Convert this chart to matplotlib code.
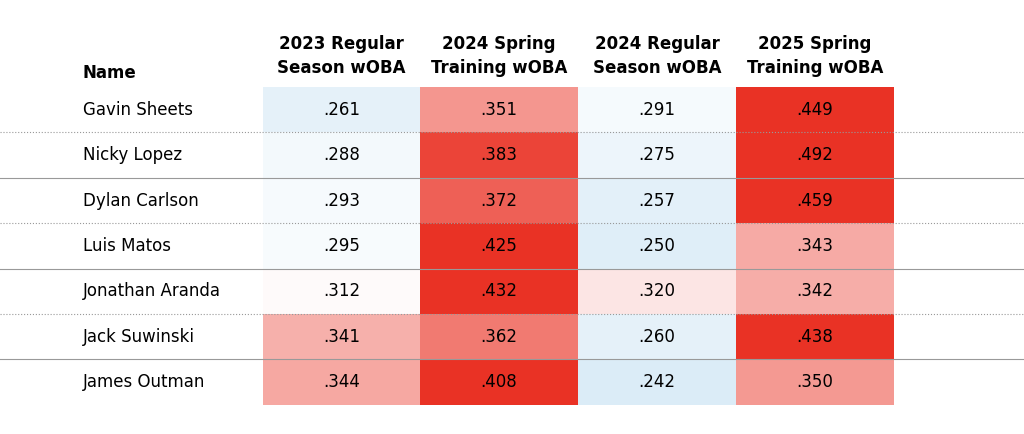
import matplotlib
matplotlib.use("Agg")
import matplotlib.pyplot as plt
import numpy as np

names = ["Gavin Sheets", "Nicky Lopez", "Dylan Carlson", "Luis Matos",
         "Jonathan Aranda", "Jack Suwinski", "James Outman"]
headers = ["2023 Regular\nSeason wOBA", "2024 Spring\nTraining wOBA",
           "2024 Regular\nSeason wOBA", "2025 Spring\nTraining wOBA"]
reg2023 = [.261, .288, .293, .295, .312, .341, .344]
spring2024 = [.351, .383, .372, .425, .432, .362, .408]
reg2024 = [.291, .275, .257, .250, .320, .260, .242]
spring2025 = [.449, .492, .459, .343, .342, .438, .350]
cols = [reg2023, spring2024, reg2024, spring2025]

W, H = 1024, 434
fig = plt.figure(figsize=(W/100, H/100), dpi=100)
ax = fig.add_axes([0, 0, 1, 1])
ax.set_xlim(0, W); ax.set_ylim(H, 0); ax.axis("off")

def color(v):
    mid = .31
    white = np.array([1, 1, 1.0])
    if v >= mid:
        f = min((v - mid) / .08, 1)
        c = np.array([233, 50, 37]) / 255
    else:
        f = min((mid - v) / .07, 1)
        c = np.array([218, 235, 247]) / 255
    return tuple(white + (c - white) * f)

col_x = [263, 420, 578, 736, 894]
row_y = [87 + 45.4 * i for i in range(8)]
font = "DejaVu Sans"
ax.text(83, 73, "Name", fontsize=12, fontweight="bold", va="center", ha="left", family=font)
for j, h in enumerate(headers):
    ax.text((col_x[j] + col_x[j+1]) / 2, 56, h, fontsize=12, fontweight="bold",
            ha="center", va="center", linespacing=1.45, family=font)
for i, n in enumerate(names):
    y0, y1 = row_y[i], row_y[i+1]
    ym = (y0 + y1) / 2
    ax.text(83, ym, n, fontsize=12, va="center", ha="left", family=font)
    for j, c in enumerate(cols):
        ax.add_patch(plt.Rectangle((col_x[j], y0), col_x[j+1] - col_x[j], y1 - y0,
                                   facecolor=color(c[i]), edgecolor="none"))
        ax.text((col_x[j] + col_x[j+1]) / 2, ym, f"{c[i]:.3f}"[1:], fontsize=12,
                ha="center", va="center", family=font)
    if i < len(names) - 1:
        ls = ":" if i % 2 == 0 else "-"
        ax.plot([0, W], [y1, y1], color="#999999", lw=0.8, ls=ls, zorder=3)
fig.savefig("out.png", dpi=100)
